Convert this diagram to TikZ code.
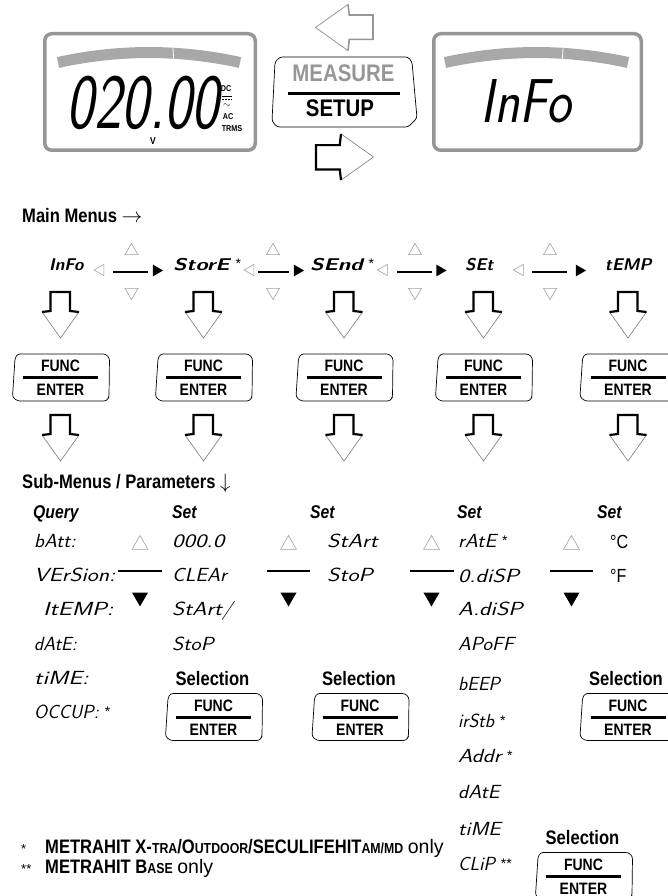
\documentclass[tikz,border=0pt]{standalone}
\usepackage{fontspec}
\setmainfont{Liberation Sans}
\newfontfamily\condfont[FakeStretch=0.85]{Liberation Sans}
\usetikzlibrary{shapes.geometric}

\definecolor{lcdgray}{RGB}{150,150,150}
\definecolor{bargray}{RGB}{168,168,168}
\definecolor{trigray}{RGB}{160,160,160}
\definecolor{headgray}{RGB}{120,120,120}

\newcommand{\segfont}{\sffamily\itshape}
\newcommand{\segw}[2]{\scalebox{#1}[1]{#2}}
\newcommand{\starmark}[1]{\hspace{6pt}\raisebox{1.5pt}{\normalfont\fontsize{14}{14}\selectfont #1}}
\newcommand{\fakesc}[1]{{\fontsize{14.5}{14.5}\selectfont #1}}

\begin{document}
\begin{tikzpicture}[x=1pt, y=-1pt,
   lcdbox/.style={draw=lcdgray, line width=3.5pt, rounded corners=7pt, minimum height=116.5pt, inner sep=0pt},
   lcdbar/.style={draw=bargray, line width=11pt},
   lcdnum/.style={inner sep=0pt, font=\segfont\fontsize{78}{78}\selectfont},
   lcdtag/.style={inner sep=0pt, font=\condfont\bfseries\fontsize{8.5}{8.5}\selectfont},
   keyline/.style={draw=black, line width=0.7pt, rounded corners=2.5pt},
   keytxt/.style={inner sep=0pt, font=\condfont\bfseries\fontsize{16.5}{16.5}\selectfont},
   bigkeytxt/.style={inner sep=0pt, font=\condfont\bfseries\fontsize{24}{24}\selectfont},
   keybar/.style={line width=3pt},
   selbar/.style={line width=2.6pt},
   headline/.style={draw=headgray, line width=0.6pt},
   shaftline/.style={draw=black, line width=2.2pt},
   greytri/.style={regular polygon, regular polygon sides=3, draw=trigray, line width=0.6pt, inner sep=0pt},
   blacktri/.style={regular polygon, regular polygon sides=3, fill=black, inner sep=0pt},
   menuitem/.style={anchor=base west, inner sep=0pt, font=\segfont\bfseries\fontsize{17}{17}\selectfont},
   subitem/.style={anchor=base west, inner sep=0pt, font=\segfont\fontsize{19}{19}\selectfont},
   colhead/.style={anchor=base west, inner sep=0pt, font=\condfont\bfseries\itshape\fontsize{18.5}{18.5}\selectfont},
   sectitle/.style={anchor=base west, inner sep=0pt, font=\condfont\bfseries\fontsize{19.5}{19.5}\selectfont},
   seltxt/.style={anchor=base, inner sep=0pt, font=\condfont\bfseries\fontsize{19.5}{19.5}\selectfont},
   note/.style={anchor=base west, inner sep=0pt, font=\condfont\bfseries\fontsize{19.5}{19.5}\selectfont},
   notemark/.style={anchor=base west, inner sep=0pt, font=\fontsize{13}{13}\selectfont},
   funckey/.pic={
     \draw[keyline] (-43,-23.5) -- (45,-23.5) -- (49,-19.5) -- (48.5,19.5) -- (46,23.5)
        -- (-43,23.5) -- (-48,19.5) -- (-45.5,-19) -- cycle;
     \node[keytxt] (-fn) at (0,-11.5) {FUNC};
     \node[keytxt] (-en) at (0,12.5) {ENTER};
     \draw[keybar] (-37.5,0) -- (37.5,0);
   },
   bentarrow/.pic={
     \draw[headline] (-18.5,0) -- (0,26) -- (18.5,0);
     \draw[shaftline] (-18.5,0) -- (-10,-1) -- (-10,-20) -- (9.5,-20) -- (9.5,-1) -- (18.5,0);
   }]

\useasboundingbox (0,0) rectangle (668,896);
\clip (0,0) rectangle (668,896);

% the two displays
\node[lcdbox, minimum width=210.5pt] (lcdL) at (150,92) {};
\node[lcdbox, minimum width=207.5pt] (lcdR) at (537.5,92) {};
\draw[lcdbar] (58,62.5) .. controls (118.7,49.2) and (179.3,49.2) .. (240,62.5);
\draw[lcdbar] (445,62.5) .. controls (506,49.2) and (567,49.2) .. (628,62.5);
\draw[white, line width=0.8pt] (173,47.7) -- (173.6,58.7);
\draw[white, line width=0.8pt] (563,47.8) -- (562.4,58.8);

\node[lcdnum] (val) at (143,103) {\scalebox{0.75}[1]{020.00}};
\node[lcdnum, font=\segfont\fontsize{62}{62}\selectfont] (info) at (526,101.5) {\scalebox{0.85}[1]{InFo}};

\node[lcdtag] (dc) at (226,89) {DC};
\draw[line width=0.9pt] (221.5,96) -- (231.5,96);
\draw[line width=0.9pt, dash pattern=on 2pt off 1pt] (221.5,99.5) -- (231.5,99.5);
\node[inner sep=0pt] (acw) at (227,106) {$\sim$};
\node[lcdtag] (ac) at (228,117) {AC};
\node[lcdtag] (trms) at (232,128.5) {TRMS};
\node[lcdtag, font=\condfont\bfseries\fontsize{10}{10}\selectfont] (volt) at (153,141.5) {V};

% MEASURE / SETUP key
\draw[keyline] (280,57) -- (408,57) -- (412,62) -- (417,118) -- (408,127)
   -- (277,127) -- (272,121) -- (275,62) -- cycle;
\node[bigkeytxt, text=lcdgray] (meas) at (343.5,73) {MEASURE};
\node[bigkeytxt] (setup) at (340,108) {SETUP};
\draw[keybar] (288,94) -- (400,94);

\pic[rotate=-90, scale=1.25, shaftline/.style={draw=lcdgray, line width=1.6pt},
     headline/.style={draw=lcdgray, line width=0.8pt}] (back) at (348,27.5) {bentarrow};
\pic[rotate=90, scale=1.25] (next) at (341,157) {bentarrow};

% main menus
\node[sectitle] (mainhd) at (22,222) {Main Menus $\rightarrow$};
\node[menuitem] (mInfo) at (49,270) {InFo};
\node[menuitem] (mStore) at (173,270) {\segw{1.3}{StorE}\starmark{*}};
\node[menuitem] (mSend) at (310,270) {\segw{1.3}{SEnd}\starmark{*}};
\node[menuitem] (mSet) at (465,270) {SEt};
\node[menuitem] (mTemp) at (605,270) {tEMP};

\foreach \l/\a/\b/\r/\t [count=\i] in {100.6/113/148/156.3/131.5, 250.6/258/289/297.3/273,
                                     384.1/397/432/439.8/415, 520.1/532/567/579.3/550} {
  \node[greytri, minimum size=13pt, shape border rotate=90] (lt\i) at (\l,270) {};
  \draw[selbar] (\a,272) -- (\b,272);
  \node[blacktri, minimum size=13.5pt, shape border rotate=-90] (rt\i) at (\r,270.5) {};
  \node[greytri, minimum size=15pt] (up\i) at (\t,250.9) {};
  \node[greytri, minimum size=15pt, shape border rotate=180] (down\i) at (\t,292.1) {};
}

\foreach \x [count=\n] in {60.5,203.5,344,483.5,628} {
  \pic (drop\n) at (\x,312) {bentarrow};
  \pic (key\n) at (\x,377.5) {funckey};
  \pic (enter\n) at (\x,435) {bentarrow};
}

% sub-menus
\node[sectitle] (subhd) at (22,488) {Sub-Menus / Parameters $\downarrow$};
\node[colhead] (hQuery) at (33,518) {Query};
\node[colhead] (hStore) at (172,518) {Set};
\node[colhead] (hSend) at (310,518) {Set};
\node[colhead] (hSet) at (457,518) {Set};
\node[colhead] (hTemp) at (597,518) {Set};

\node[subitem] (batt) at (34,547) {\segw{1.08}{bAtt:}};
\node[subitem] (vers) at (34,581) {\segw{1.23}{VErSion:}};
\node[subitem] (itemp) at (43,615) {\segw{1.3}{ItEMP:}};
\node[subitem] (qdate) at (34,650) {dAtE:};
\node[subitem] (qtime) at (34,684) {\segw{1.3}{tiME:}};
\node[subitem] (occup) at (34,718) {OCCUP:\starmark{*}};

\node[subitem] (zero) at (172,547) {\segw{1.28}{000.0}};
\node[subitem] (clear) at (172,581) {\segw{1.1}{CLEAr}};
\node[subitem] (stst) at (172,615) {\segw{1.22}{StArt/}};
\node[subitem] (stop1) at (172,650) {\segw{1.13}{StoP}};

\node[subitem] (start) at (327,547) {\segw{1.24}{StArt}};
\node[subitem] (stop2) at (327,581) {\segw{1.24}{StoP}};

\node[subitem] (rate) at (458,547) {\segw{1.1}{rAtE}\starmark{*}};
\node[subitem] (odisp) at (458,582) {\segw{1.25}{0.diSP}};
\node[subitem] (adisp) at (458,615) {\segw{1.25}{A.diSP}};
\node[subitem] (apoff) at (458,650) {\segw{1.07}{APoFF}};
\node[subitem] (beep) at (458,690) {bEEP};
\node[subitem] (irstb) at (458,727) {irStb\starmark{*}};
\node[subitem] (addr) at (458,762) {\segw{1.2}{Addr}\starmark{*}};
\node[subitem] (sdate) at (458,798) {\segw{1.1}{dAtE}};
\node[subitem] (stime) at (458,835) {\segw{1.15}{tiME}};
\node[subitem] (clip) at (458,870) {CLiP\starmark{**}};

\node[subitem, font=\condfont\fontsize{19}{19}\selectfont] (degc) at (610,548) {°C};
\node[subitem, font=\condfont\fontsize{19}{19}\selectfont] (degf) at (610,582) {°F};

\foreach \t/\a/\b [count=\i] in {140/118/162, 288.5/267/310, 431.5/410/454, 571.5/550/593} {
  \node[greytri, minimum size=18.5pt] (sup\i) at (\t,544.8) {};
  \draw[selbar] (\a,571) -- (\b,571);
  \node[blacktri, minimum size=18.5pt, shape border rotate=180] (sdn\i) at (\t,597.2) {};
}

% selection keys
\node[seltxt] (sel1) at (212.5,685) {Selection};
\node[seltxt] (sel2) at (359,685) {Selection};
\node[seltxt] (sel3) at (626,685) {Selection};
\node[seltxt] (sel4) at (582.5,844) {Selection};
\pic (skey1) at (213.5,717) {funckey};
\pic (skey2) at (360,717) {funckey};
\pic (skey3) at (628,717) {funckey};
\pic (skey4) at (583.5,876) {funckey};

% footnotes
\node[notemark] (mk1) at (21,853) {*};
\node[note] (fn1) at (45,853) {METRAHIT X-\fakesc{TRA}/O\fakesc{UTDOOR}/SECULIFEHIT\fakesc{AM/MD} {\normalfont\mdseries only}};
\node[notemark] (mk2) at (21,873) {**};
\node[note] (fn2) at (45,873) {METRAHIT B\fakesc{ASE} {\normalfont\mdseries only}};

\end{tikzpicture}
\end{document}
